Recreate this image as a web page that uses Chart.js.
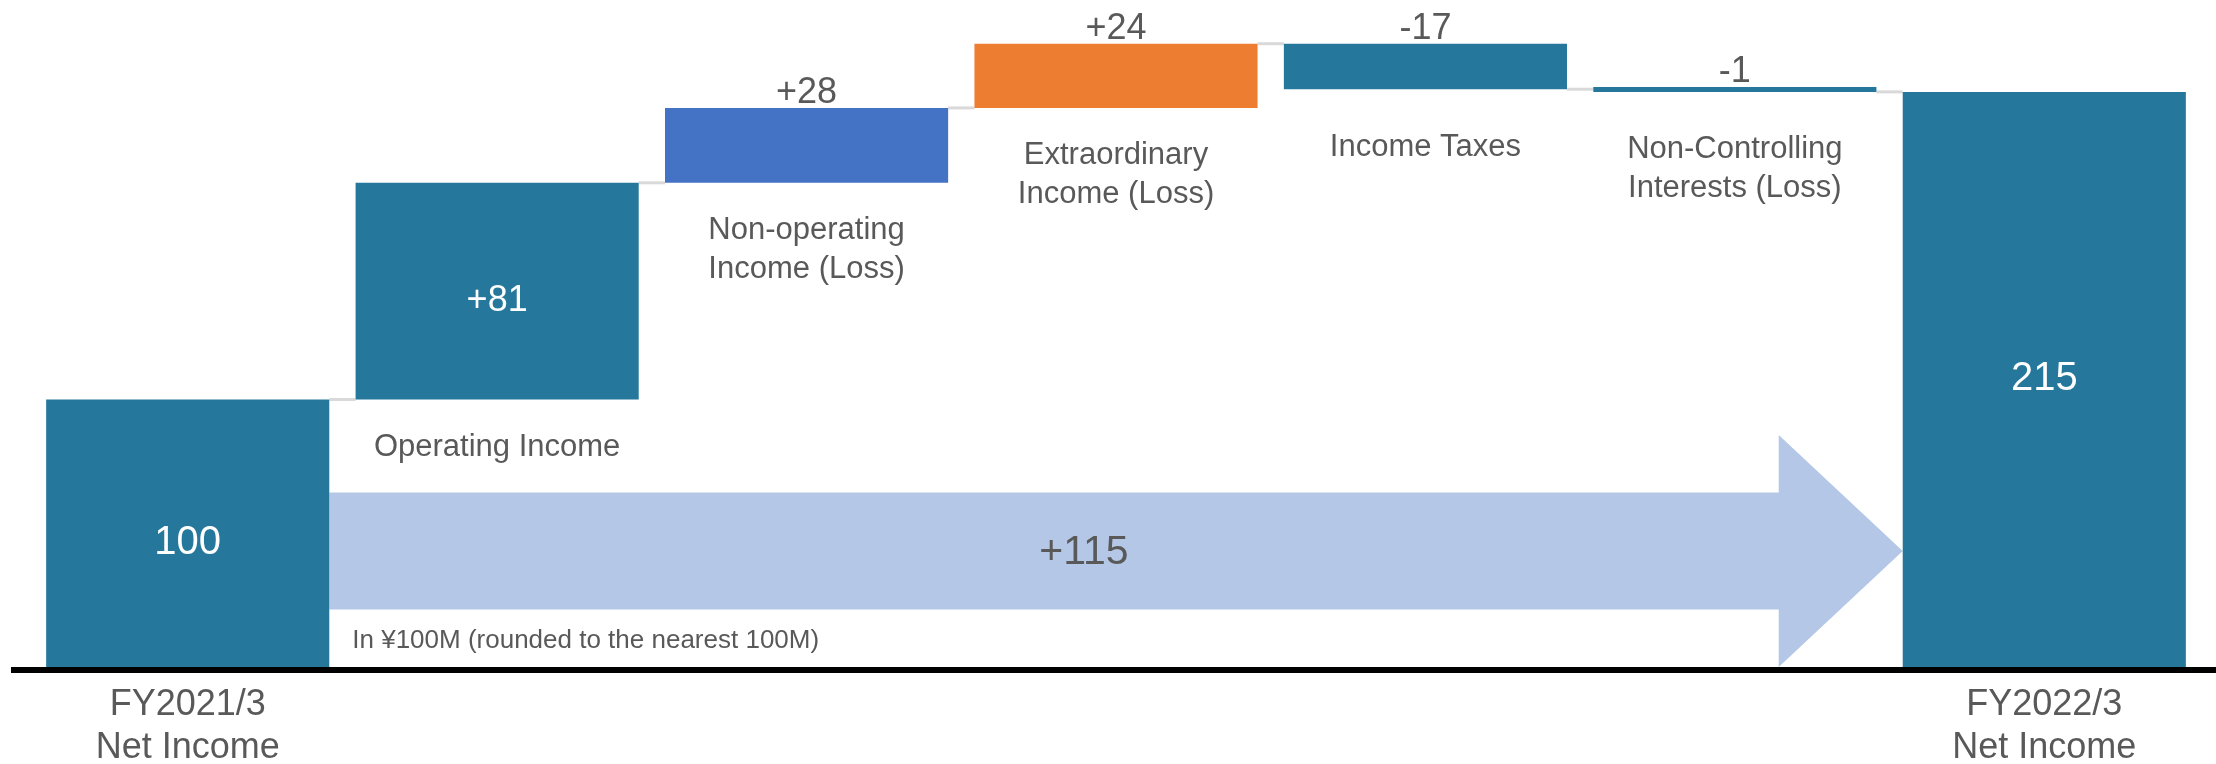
<!DOCTYPE html>
<html>
<head>
<meta charset="utf-8">
<title>Net Income Bridge</title>
<script src="https://cdn.jsdelivr.net/npm/chart.js@4/dist/chart.umd.min.js"></script>
<style>
    html, body { margin: 0; padding: 0; background: #fff; }
    canvas { display: block; }
</style>
</head>
<body>
<canvas id="bridgeChart" width="2216" height="764"></canvas>
<script>
// values in ¥100M
const categories = [
    ['FY2021/3', 'Net Income'],
    ['Operating Income'],
    ['Non-operating', 'Income (Loss)'],
    ['Extraordinary', 'Income (Loss)'],
    ['Income Taxes'],
    ['Non-Controlling', 'Interests (Loss)'],
    ['FY2022/3', 'Net Income']
];
const startTotal = 100;
const changes = [81, 28, 24, -17, -1];
const endTotal = 215;
const barColors = ['#26779C', '#26779C', '#4472C4', '#ED7D31', '#26779C', '#26779C', '#26779C'];
const unitNote = 'In ¥100M (rounded to the nearest 100M)';

(() => {
    const TEXT = '#595959';
    const FONT = '"Liberation Sans", Arial, sans-serif';

    // floating ranges for the waterfall
    const ranges = [[0, startTotal]];
    const labels = [String(startTotal)];
    let running = startTotal;
    changes.forEach(c => {
        ranges.push([running, running + c]);
        labels.push((c > 0 ? '+' : '') + c);
        running += c;
    });
    ranges.push([0, endTotal]);
    labels.push(String(endTotal));

    const decor = {
        id: 'decor',
        beforeDatasetsDraw(chart) {
            const ctx = chart.ctx;
            const bars = chart.getDatasetMeta(0).data;
            const y0 = chart.scales.y.getPixelForValue(0);
            const startX = bars[0].x + bars[0].width / 2;
            const tipX = bars[bars.length - 1].x - bars[bars.length - 1].width / 2;
            const midY = y0 - 116;
            const headX = tipX - 124;

            ctx.save();
            // big arrow
            ctx.fillStyle = '#B4C7E7';
            ctx.beginPath();
            ctx.moveTo(startX, midY - 58.5);
            ctx.lineTo(headX, midY - 58.5);
            ctx.lineTo(headX, midY - 116);
            ctx.lineTo(tipX, midY);
            ctx.lineTo(headX, midY + 116);
            ctx.lineTo(headX, midY + 58.5);
            ctx.lineTo(startX, midY + 58.5);
            ctx.closePath();
            ctx.fill();

            ctx.fillStyle = TEXT;
            ctx.font = `41px ${FONT}`;
            ctx.textAlign = 'center';
            ctx.textBaseline = 'middle';
            ctx.fillText('+' + (endTotal - startTotal), (startX + headX) / 2 + 30, midY + 2);

            ctx.font = `26px ${FONT}`;
            ctx.textAlign = 'left';
            ctx.textBaseline = 'alphabetic';
            ctx.fillText(unitNote, startX + 23, y0 - 19);

            // connectors between bars
            ctx.strokeStyle = '#D9D9D9';
            ctx.lineWidth = 3;
            for (let i = 0; i < bars.length - 1; i++) {
                const y = chart.scales.y.getPixelForValue(ranges[i][1]);
                ctx.beginPath();
                ctx.moveTo(bars[i].x + bars[i].width / 2, y);
                ctx.lineTo(bars[i + 1].x - bars[i + 1].width / 2, y);
                ctx.stroke();
            }
            ctx.restore();
        },
        afterDatasetsDraw(chart) {
            const ctx = chart.ctx;
            const bars = chart.getDatasetMeta(0).data;
            const y0 = chart.scales.y.getPixelForValue(0);
            const last = bars.length - 1;

            ctx.save();
            ctx.textAlign = 'center';
            bars.forEach((bar, i) => {
                const top = Math.min(bar.y, bar.base);
                const bottom = Math.max(bar.y, bar.base);
                const isTotal = i === 0 || i === last;

                if (bottom - top > 100) {
                    // white label inside the tall bars
                    ctx.fillStyle = '#fff';
                    ctx.font = `${isTotal ? 40 : 36}px ${FONT}`;
                    ctx.textBaseline = 'middle';
                    const nudge = i === last ? 0 : 10;
                    ctx.fillText(labels[i], bar.x, (top + bottom) / 2 + nudge);
                } else {
                    ctx.fillStyle = TEXT;
                    ctx.font = `36px ${FONT}`;
                    ctx.textBaseline = 'alphabetic';
                    ctx.fillText(labels[i], bar.x, top - 5);
                }

                ctx.fillStyle = TEXT;
                ctx.textBaseline = 'middle';
                if (isTotal) {
                    ctx.font = `36px ${FONT}`;
                    categories[i].forEach((line, k) => ctx.fillText(line, bar.x, y0 + 38 + k * 43));
                } else {
                    ctx.font = `31px ${FONT}`;
                    const off = changes[i - 1] < 0 ? 58 : 48;
                    categories[i].forEach((line, k) => ctx.fillText(line, bar.x, bottom + off + k * 39));
                }
            });

            // baseline
            ctx.strokeStyle = '#000';
            ctx.lineWidth = 6;
            ctx.beginPath();
            ctx.moveTo(11, y0 + 3);
            ctx.lineTo(chart.width, y0 + 3);
            ctx.stroke();
            ctx.restore();
        }
    };

    new Chart(document.getElementById('bridgeChart').getContext('2d'), {
        type: 'bar',
        data: {
            labels: categories.map(c => c.join(' ')),
            datasets: [{
                data: ranges,
                backgroundColor: barColors,
                borderWidth: 0,
                minBarLength: 5,
                barPercentage: 0.915,
                categoryPercentage: 1
            }]
        },
        options: {
            responsive: false,
            animation: false,
            devicePixelRatio: 1,
            layout: { padding: { top: 25, bottom: 97, left: 33, right: 17 } },
            plugins: { legend: { display: false }, tooltip: { enabled: false } },
            scales: {
                x: { display: false },
                y: { display: false, min: 0, max: 240 }
            }
        },
        plugins: [decor]
    });
})();
</script>
</body>
</html>
